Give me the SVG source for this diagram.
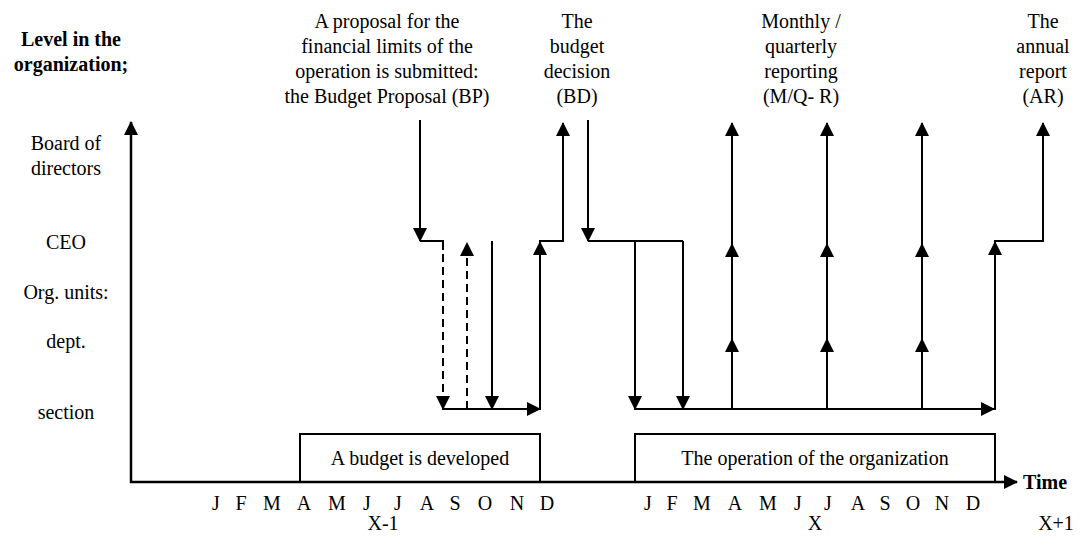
<svg xmlns="http://www.w3.org/2000/svg" width="1087" height="537" viewBox="0 0 1087 537">
  <defs>
    <marker id="arrow" viewBox="0 0 14 14" refX="13" refY="7" markerWidth="14" markerHeight="14" markerUnits="userSpaceOnUse" orient="auto">
      <path d="M0,0 L14,7 L0,14 Z" fill="#000"/>
    </marker>
  </defs>
  <style>
    text { font-family: "Liberation Serif", "Times New Roman", serif; font-size: 20px; fill: #000; }
    .c { text-anchor: middle; }
    .b { font-weight: bold; }
    .ln { fill: none; stroke: #000; stroke-width: 2; }
    .ax { stroke-width: 2.5; }
    .dash { stroke-dasharray: 8 5; }
    .arr { marker-end: url(#arrow); }
    .box { fill: #fff; stroke: #000; stroke-width: 2; }
  </style>
  <rect width="1087" height="537" fill="#fff"/>

  <!-- level labels on the left -->
  <g id="levels">
    <text class="c b" x="71" y="46">Level in the</text>
    <text class="c b" x="71" y="71">organization;</text>
    <text class="c" x="66" y="150">Board of</text>
    <text class="c" x="66" y="175">directors</text>
    <text class="c" x="66" y="249">CEO</text>
    <text class="c" x="66" y="299">Org. units:</text>
    <text class="c" x="66" y="348">dept.</text>
    <text class="c" x="66" y="419">section</text>
  </g>

  <!-- event captions along the top -->
  <g id="budget-proposal">
    <text class="c" x="387" y="28">A proposal for the</text>
    <text class="c" x="387" y="53">financial limits of the</text>
    <text class="c" x="387" y="78">operation is submitted:</text>
    <text class="c" x="387" y="103">the Budget Proposal (BP)</text>
  </g>
  <g id="budget-decision">
    <text class="c" x="577" y="28">The</text>
    <text class="c" x="577" y="53">budget</text>
    <text class="c" x="577" y="78">decision</text>
    <text class="c" x="577" y="103">(BD)</text>
  </g>
  <g id="reporting">
    <text class="c" x="801" y="28">Monthly /</text>
    <text class="c" x="801" y="53">quarterly</text>
    <text class="c" x="801" y="78">reporting</text>
    <text class="c" x="801" y="103">(M/Q- R)</text>
  </g>
  <g id="annual-report">
    <text class="c" x="1043" y="28">The</text>
    <text class="c" x="1043" y="53">annual</text>
    <text class="c" x="1043" y="78">report</text>
    <text class="c" x="1043" y="103">(AR)</text>
  </g>

  <!-- phase boxes sitting on the time axis -->
  <g id="phase-budget">
    <rect class="box" x="300" y="434" width="240" height="48"/>
    <text class="c" x="420" y="465">A budget is developed</text>
  </g>
  <g id="phase-operation">
    <rect class="box" x="635" y="434" width="360" height="48"/>
    <text class="c" x="815" y="465">The operation of the organization</text>
  </g>

  <!-- time axis labels -->
  <g id="months-x-1">
    <text class="c" x="216" y="510">J</text>
    <text class="c" x="241" y="510">F</text>
    <text class="c" x="272" y="510">M</text>
    <text class="c" x="304" y="510">A</text>
    <text class="c" x="337" y="510">M</text>
    <text class="c" x="367" y="510">J</text>
    <text class="c" x="398" y="510">J</text>
    <text class="c" x="427" y="510">A</text>
    <text class="c" x="455" y="510">S</text>
    <text class="c" x="485" y="510">O</text>
    <text class="c" x="517" y="510">N</text>
    <text class="c" x="547" y="510">D</text>
    <text class="c" x="383" y="530">X-1</text>
  </g>
  <g id="months-x">
    <text class="c" x="648" y="510">J</text>
    <text class="c" x="672" y="510">F</text>
    <text class="c" x="702" y="510">M</text>
    <text class="c" x="735" y="510">A</text>
    <text class="c" x="768" y="510">M</text>
    <text class="c" x="798" y="510">J</text>
    <text class="c" x="828" y="510">J</text>
    <text class="c" x="858" y="510">A</text>
    <text class="c" x="885" y="510">S</text>
    <text class="c" x="913" y="510">O</text>
    <text class="c" x="942" y="510">N</text>
    <text class="c" x="973" y="510">D</text>
    <text class="c" x="815" y="530">X</text>
  </g>
  <g id="time-label">
    <text class="b" x="1023" y="489">Time</text>
    <text class="c" x="1056" y="530">X+1</text>
  </g>

  <!-- connectors -->
  <g id="connectors">
    <!-- axes -->
    <line class="ln ax arr" x1="131" y1="483" x2="131" y2="122"/>
    <line class="ln ax arr" x1="130" y1="482" x2="1017" y2="482"/>

    <!-- budget proposal handed down -->
    <line class="ln arr" x1="420" y1="120" x2="420" y2="241"/>
    <polyline class="ln" points="420,241 443,241 443,250"/>
    <line class="ln dash arr" x1="443" y1="241" x2="443" y2="409"/>
    <line class="ln dash arr" x1="467" y1="409" x2="467" y2="243"/>
    <line class="ln arr" x1="492" y1="241" x2="492" y2="409"/>
    <line class="ln arr" x1="442" y1="409" x2="540" y2="409"/>
    <line class="ln arr" x1="540" y1="410" x2="540" y2="242"/>
    <polyline class="ln arr" points="539,241 563,241 563,123"/>

    <!-- budget decision handed down -->
    <line class="ln arr" x1="588" y1="120" x2="588" y2="241"/>
    <polyline class="ln" points="588,241 683,241"/>
    <line class="ln arr" x1="635" y1="241" x2="635" y2="409"/>
    <line class="ln arr" x1="683" y1="241" x2="683" y2="409"/>
    <line class="ln arr" x1="634" y1="409" x2="994" y2="409"/>

    <!-- monthly / quarterly reports going up -->
    <line class="ln arr" x1="732" y1="409" x2="732" y2="339"/>
    <line class="ln arr" x1="732" y1="339" x2="732" y2="244"/>
    <line class="ln arr" x1="732" y1="244" x2="732" y2="123"/>
    <line class="ln arr" x1="827" y1="409" x2="827" y2="339"/>
    <line class="ln arr" x1="827" y1="339" x2="827" y2="244"/>
    <line class="ln arr" x1="827" y1="244" x2="827" y2="123"/>
    <line class="ln arr" x1="922" y1="409" x2="922" y2="339"/>
    <line class="ln arr" x1="922" y1="339" x2="922" y2="244"/>
    <line class="ln arr" x1="922" y1="244" x2="922" y2="123"/>

    <!-- annual report -->
    <line class="ln arr" x1="995" y1="410" x2="995" y2="242"/>
    <polyline class="ln arr" points="994,241 1043,241 1043,123"/>
  </g>
</svg>
